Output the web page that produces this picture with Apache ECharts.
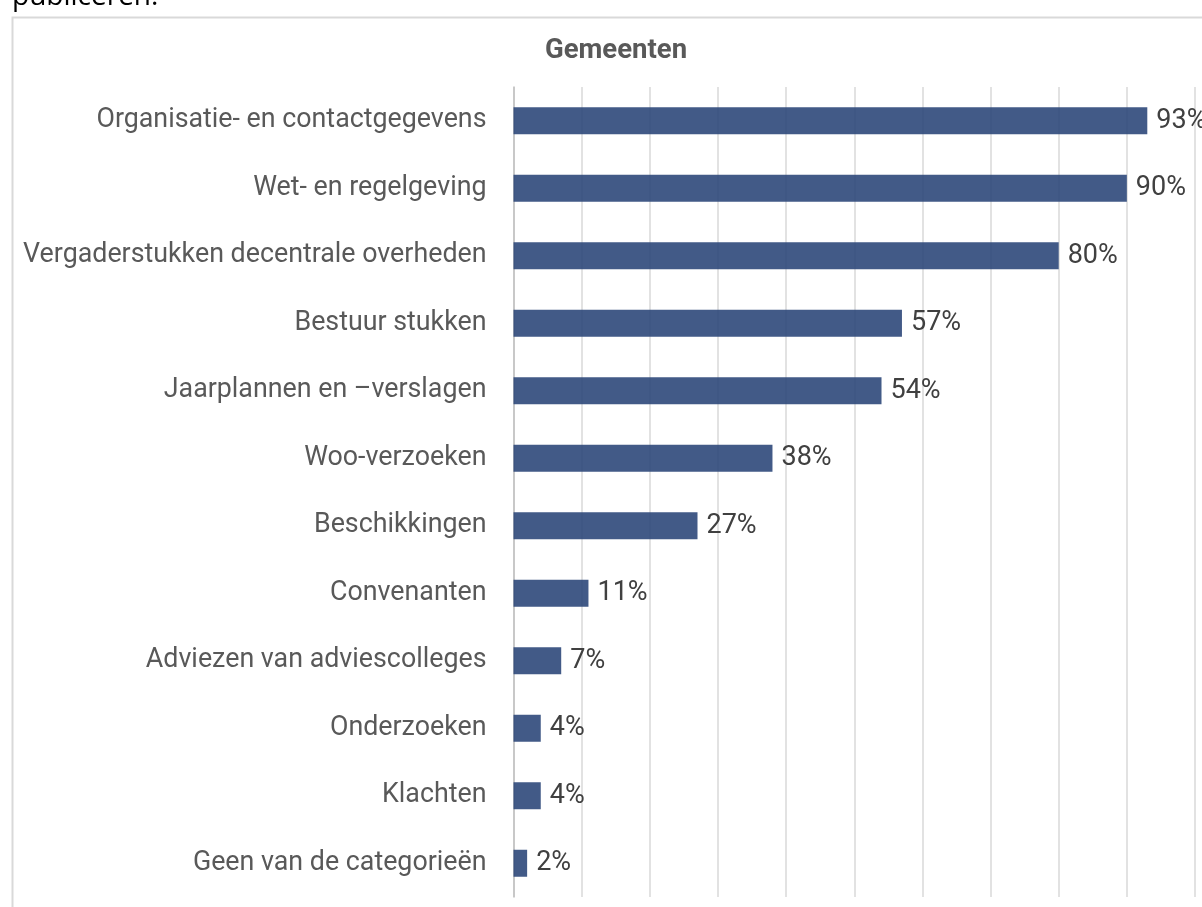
<!DOCTYPE html>
<html>
<head>
<meta charset="utf-8">
<script src="https://cdn.jsdelivr.net/npm/echarts@6/dist/echarts.min.js"></script>
<style>
  html, body { margin: 0; padding: 0; background: #fff; }
  #draw { width: 1202px; height: 907px; }
</style>
</head>
<body>
<div id="draw"></div>
<script>
var categories = [
  "Organisatie- en contactgegevens",
  "Wet- en regelgeving",
  "Vergaderstukken decentrale overheden",
  "Bestuur stukken",
  "Jaarplannen en \u2013verslagen",
  "Woo-verzoeken",
  "Beschikkingen",
  "Convenanten",
  "Adviezen van adviescolleges",
  "Onderzoeken",
  "Klachten",
  "Geen van de categorieën"
];
var values = [93, 90, 80, 57, 54, 38, 27, 11, 7, 4, 4, 2];

var chart = echarts.init(document.getElementById("draw"));
var option = {
  animation: false,
  graphic: [
    {
      type: "rect",
      left: 10,
      top: 15,
      shape: { width: 1200, height: 900 },
      style: { fill: "none", stroke: "#D9D9D9", lineWidth: 2 }
    },
    {
      type: "text",
      left: 12,
      top: -17,
      style: {
        text: "publiceren.",
        font: "28px 'Open Sans', sans-serif",
        fill: "#000"
      }
    }
  ],
  title: {
    text: "Gemeenten",
    left: 611,
    textAlign: "center",
    top: 32,
    textStyle: {
      fontFamily: "Roboto",
      fontWeight: "bold",
      fontSize: 27.5,
      color: "#595959"
    }
  },
  grid: {
    left: 513.5,
    right: 7,
    top: 87,
    bottom: 10,
    containLabel: false
  },
  xAxis: {
    type: "value",
    min: 0,
    max: 100,
    interval: 10,
    axisLabel: { show: false },
    axisLine: { show: false },
    axisTick: { show: false },
    splitLine: { show: true, lineStyle: { color: "#D9D9D9", width: 1.5 } }
  },
  yAxis: {
    type: "category",
    inverse: true,
    data: categories,
    axisTick: { show: false },
    axisLine: { show: true, lineStyle: { color: "#BFBFBF", width: 1.5 } },
    axisLabel: {
      margin: 27,
      fontFamily: "Roboto",
      fontSize: 26.8,
      color: "#595959"
    }
  },
  series: [
    {
      type: "bar",
      data: values,
      barWidth: 27,
      itemStyle: { color: "rgba(46,72,122,0.9)" },
      label: {
        show: true,
        position: "right",
        distance: 9,
        formatter: "{c}%",
        fontFamily: "Roboto",
        fontSize: 27,
        color: "#404040"
      }
    }
  ]
};
chart.setOption(option);
</script>
</body>
</html>
